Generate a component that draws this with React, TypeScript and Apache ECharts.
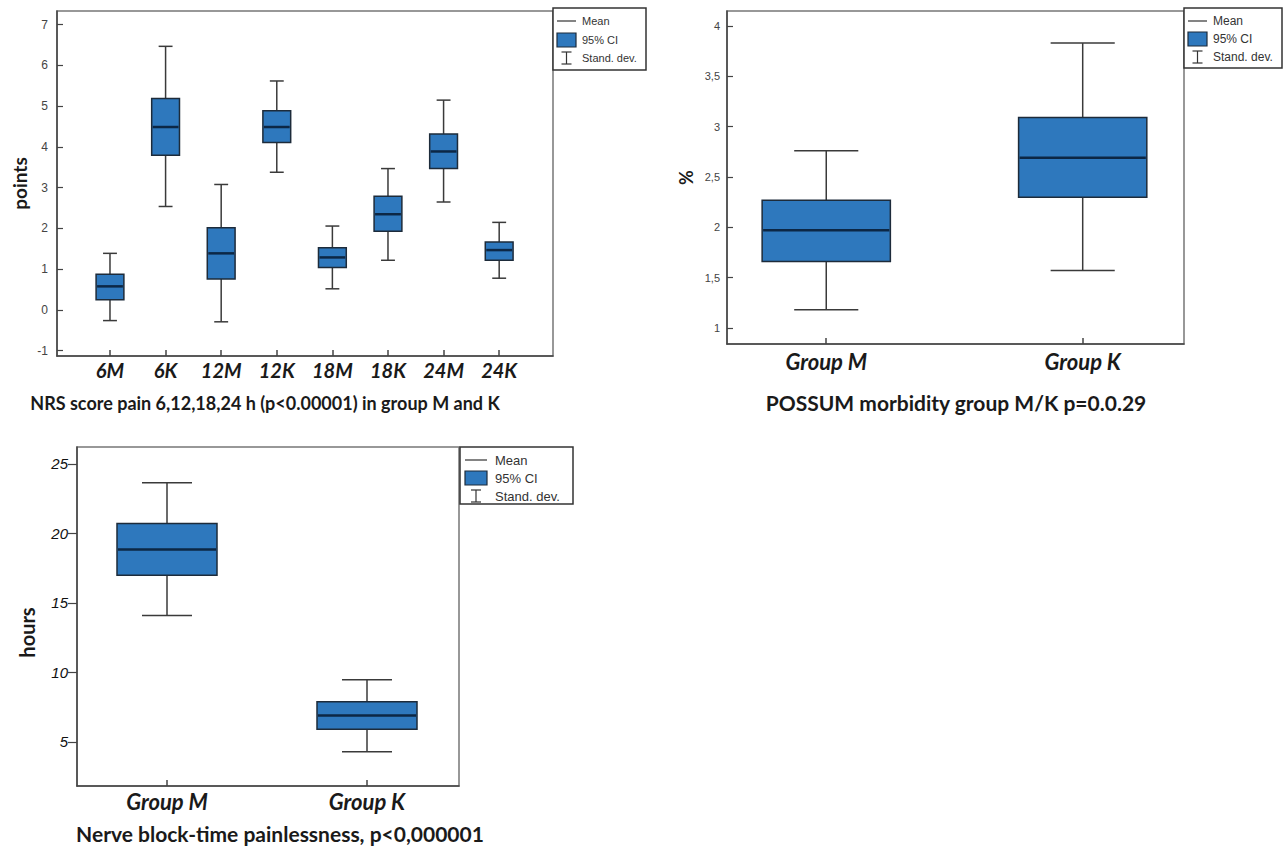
import React, { useEffect, useRef } from 'react';
import * as echarts from 'echarts';

// ---- Data ----
const nrsCategories = ['6M', '6K', '12M', '12K', '18M', '18K', '24M', '24K'];
const nrsSdLow = [-0.26, 2.54, -0.29, 3.38, 0.52, 1.22, 2.65, 0.78];
const nrsCiLow = [0.25, 3.8, 0.76, 4.11, 1.04, 1.93, 3.47, 1.22];
const nrsMean = [0.58, 4.49, 1.39, 4.49, 1.29, 2.35, 3.89, 1.47];
const nrsCiHigh = [0.88, 5.19, 2.02, 4.89, 1.53, 2.79, 4.32, 1.67];
const nrsSdHigh = [1.39, 6.47, 3.08, 5.62, 2.06, 3.47, 5.15, 2.15];
const nrsTicks = [-1, 0, 1, 2, 3, 4, 5, 6, 7];

const groupCategories = ['Group M', 'Group K'];

const possumSdLow = [1.18, 1.57];
const possumCiLow = [1.66, 2.3];
const possumMean = [1.97, 2.69];
const possumCiHigh = [2.27, 3.09];
const possumSdHigh = [2.76, 3.83];
const possumTicks = [1, 1.5, 2, 2.5, 3, 3.5, 4];

const nerveSdLow = [14.1, 4.3];
const nerveCiLow = [16.99, 5.92];
const nerveMean = [18.84, 6.9];
const nerveCiHigh = [20.72, 7.89];
const nerveSdHigh = [23.65, 9.48];
const nerveTicks = [5, 10, 15, 20, 25];

// ---- Styles ----
const BOX_FILL = '#2e78bd';
const BOX_STROKE = '#1d2b3a';
const MEAN_STROKE = '#0c2745';
const WHISKER = '#3a3a3a';
const AXIS = '#444';
const FRAME = '#777';

const boxData = (lo: number[], q1: number[], m: number[], q3: number[], hi: number[]) =>
  lo.map((v, i) => [i, v, q1[i], m[i], q3[i], hi[i]]);

function renderBox(params: any, api: any) {
  const x = api.value(0);
  const lo = api.coord([x, api.value(1)]);
  const q1 = api.coord([x, api.value(2)]);
  const m = api.coord([x, api.value(3)]);
  const q3 = api.coord([x, api.value(4)]);
  const hi = api.coord([x, api.value(5)]);
  const bw = api.size([0.5, 0])[0];
  const cw = api.size([0.25, 0])[0];
  const cx = lo[0];
  const ws = { stroke: WHISKER, lineWidth: 1.5 };
  return {
    type: 'group',
    children: [
      { type: 'line', shape: { x1: cx, y1: hi[1], x2: cx, y2: q3[1] }, style: ws },
      { type: 'line', shape: { x1: cx - cw / 2, y1: hi[1], x2: cx + cw / 2, y2: hi[1] }, style: ws },
      { type: 'line', shape: { x1: cx, y1: q1[1], x2: cx, y2: lo[1] }, style: ws },
      { type: 'line', shape: { x1: cx - cw / 2, y1: lo[1], x2: cx + cw / 2, y2: lo[1] }, style: ws },
      {
        type: 'rect',
        shape: { x: cx - bw / 2, y: q3[1], width: bw, height: q1[1] - q3[1] },
        style: { fill: BOX_FILL, stroke: BOX_STROKE, lineWidth: 1.5 },
      },
      {
        type: 'line',
        shape: { x1: cx - bw / 2 + 1, y1: m[1], x2: cx + bw / 2 - 1, y2: m[1] },
        style: { stroke: MEAN_STROKE, lineWidth: 2.5 },
      },
    ],
  };
}

function catAxis(gridIndex: number, min: number, max: number, cats: string[], fontSize: number, margin: number) {
  const ticks = cats.map((_, i) => i);
  return {
    type: 'value',
    gridIndex,
    min,
    max,
    splitLine: { show: false },
    axisLine: { show: true, onZero: false, lineStyle: { color: AXIS, width: 1.5 } },
    axisTick: { show: true, inside: true, length: 6, customValues: ticks, lineStyle: { color: AXIS, width: 1.5 } },
    axisLabel: {
      customValues: ticks,
      formatter: (v: number) => cats[Math.round(v)] ?? '',
      fontFamily: 'Lato',
      fontWeight: 'bold',
      fontStyle: 'italic',
      fontSize,
      color: '#1a1a1a',
      margin,
    },
  };
}

function valAxis(
  gridIndex: number,
  min: number,
  max: number,
  ticks: number[],
  label: any,
  tick: any,
  name: string,
  nameGap: number,
  nameSize: number,
  namePadding: number[] = [0, 0, 0, 0]
) {
  return {
    type: 'value',
    gridIndex,
    min,
    max,
    splitLine: { show: false },
    axisLine: { show: true, onZero: false, lineStyle: { color: AXIS, width: 1.5 } },
    axisTick: { show: true, customValues: ticks, lineStyle: { color: AXIS, width: 1.2 }, ...tick },
    axisLabel: { customValues: ticks, ...label },
    name,
    nameLocation: 'middle',
    nameRotate: 90,
    nameGap,
    nameTextStyle: {
      fontFamily: 'Lato',
      fontWeight: 'bold',
      fontSize: nameSize,
      color: '#1a1a1a',
      padding: namePadding,
    },
  };
}

function legendGroup(
  left: number,
  top: number,
  width: number,
  height: number,
  fs: number,
  ix0: number,
  ix1: number,
  tx: number,
  rows: number[]
) {
  const txt = (t: string, y: number) => ({
    type: 'text',
    x: tx,
    y,
    style: {
      text: t,
      fontSize: fs,
      fontFamily: 'Liberation Sans',
      fill: '#333',
      align: 'left',
      verticalAlign: 'middle',
      textAlign: 'left',
      textVerticalAlign: 'middle',
    },
  });
  const icx = (ix0 + ix1) / 2;
  const ls = { stroke: '#333', lineWidth: 1.2 };
  return [
    {
      type: 'rect',
      shape: { x: left, y: top, width, height },
      style: { fill: '#fff', stroke: '#333', lineWidth: 1.5 },
    },
    { type: 'line', shape: { x1: ix0, y1: rows[0], x2: ix1, y2: rows[0] }, style: ls },
    txt('Mean', rows[0]),
    {
      type: 'rect',
      shape: { x: ix0, y: rows[1] - 7, width: ix1 - ix0, height: 14 },
      style: { fill: BOX_FILL, stroke: BOX_STROKE, lineWidth: 1.2 },
    },
    txt('95% CI', rows[1]),
    { type: 'line', shape: { x1: icx, y1: rows[2] - 6, x2: icx, y2: rows[2] + 6 }, style: ls },
    { type: 'line', shape: { x1: icx - 5, y1: rows[2] - 6, x2: icx + 5, y2: rows[2] - 6 }, style: ls },
    { type: 'line', shape: { x1: icx - 5, y1: rows[2] + 6, x2: icx + 5, y2: rows[2] + 6 }, style: ls },
    txt('Stand. dev.', rows[2]),
  ];
}

function titleText(t: string, x: number, y: number, fs: number) {
  return {
    type: 'text',
    x,
    y,
    style: {
      text: t,
      fontSize: fs,
      fontFamily: 'Lato',
      fontWeight: 'bold',
      fill: '#1a1a1a',
      align: 'center',
      verticalAlign: 'middle',
      textAlign: 'center',
      textVerticalAlign: 'middle',
    },
  };
}

const smallLabel = { fontFamily: 'Liberation Sans', fontSize: 11, color: '#444' };

const option: any = {
  animation: false,
  backgroundColor: '#fff',
  grid: [
    { left: 57, top: 11, width: 496, height: 345, show: true, borderColor: FRAME, borderWidth: 1.5, backgroundColor: 'transparent' },
    { left: 727, top: 11, width: 457, height: 333, show: true, borderColor: FRAME, borderWidth: 1.5, backgroundColor: 'transparent' },
    { left: 77, top: 447, width: 382, height: 339, show: true, borderColor: FRAME, borderWidth: 1.5, backgroundColor: 'transparent' },
  ],
  xAxis: [
    catAxis(0, -0.953, 7.968, nrsCategories, 20, 4),
    catAxis(1, -0.387, 1.395, groupCategories, 22, 6),
    catAxis(2, -0.45, 1.46, groupCategories, 22, 4),
  ],
  yAxis: [
    valAxis(0, -1.129, 7.337, nrsTicks, { ...smallLabel, fontSize: 12, margin: 9 }, { inside: true, length: 6 }, 'points', 28, 19),
    valAxis(
      1,
      0.841,
      4.149,
      possumTicks,
      { ...smallLabel, margin: 7, formatter: (v: number) => String(v).replace('.', ',') },
      { inside: true, length: 6 },
      '%',
      32,
      18
    ),
    valAxis(
      2,
      1.83,
      26.22,
      nerveTicks,
      { fontFamily: 'Liberation Sans', fontStyle: 'italic', fontSize: 15, color: '#111', margin: 9 },
      { inside: false, length: 9 },
      'hours',
      40,
      20,
      [0, 32, 0, 0]
    ),
  ],
  series: [
    {
      type: 'custom',
      xAxisIndex: 0,
      yAxisIndex: 0,
      renderItem: renderBox,
      encode: { x: 0, y: [1, 2, 3, 4, 5] },
      data: boxData(nrsSdLow, nrsCiLow, nrsMean, nrsCiHigh, nrsSdHigh),
    },
    {
      type: 'custom',
      xAxisIndex: 1,
      yAxisIndex: 1,
      renderItem: renderBox,
      encode: { x: 0, y: [1, 2, 3, 4, 5] },
      data: boxData(possumSdLow, possumCiLow, possumMean, possumCiHigh, possumSdHigh),
    },
    {
      type: 'custom',
      xAxisIndex: 2,
      yAxisIndex: 2,
      renderItem: renderBox,
      encode: { x: 0, y: [1, 2, 3, 4, 5] },
      data: boxData(nerveSdLow, nerveCiLow, nerveMean, nerveCiHigh, nerveSdHigh),
    },
  ],
  graphic: [
    ...legendGroup(553, 8, 93, 62, 11, 557, 576, 582, [21, 40, 58]),
    ...legendGroup(1184, 8, 98, 60, 12, 1188, 1207, 1213, [21, 39, 57]),
    ...legendGroup(460, 447, 113, 57, 13, 465, 487, 495, [460, 478, 496]),
    titleText('NRS score pain 6,12,18,24 h (p<0.00001) in group M and K', 265, 403, 18),
    titleText('POSSUM morbidity group M/K p=0.0.29', 956, 402, 21),
    titleText('Nerve block-time painlessness, p<0,000001', 280, 833, 21),
  ],
};

export default function App() {
  const ref = useRef<HTMLDivElement>(null);
  useEffect(() => {
    document.body.style.margin = '0';
    if (!ref.current) return;
    const chart = echarts.init(ref.current, null, { renderer: 'svg' });
    chart.setOption(option);
    return () => chart.dispose();
  }, []);
  return <div ref={ref} style={{ width: 1283, height: 847 }} />;
}
